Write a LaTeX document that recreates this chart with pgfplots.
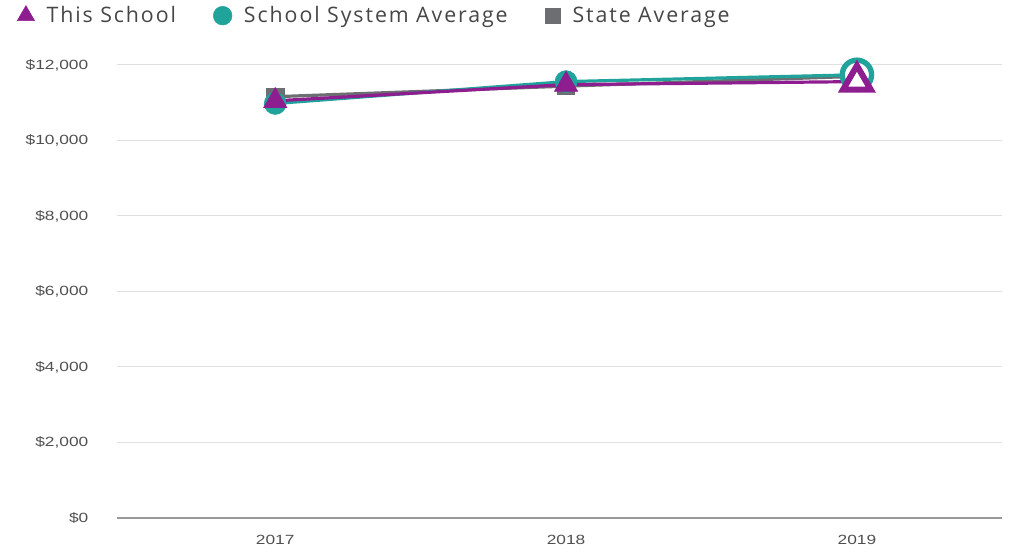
\documentclass[border=0pt]{standalone}
\usepackage{pgfplots}
\pgfplotsset{compat=1.18}
\usepackage{fontspec}
\setmainfont{Liberation Sans}
\newfontfamily\tickfont[FakeStretch=1.3]{Liberation Sans}
\newfontfamily\legfont[LetterSpace=9]{Open Sans}
\definecolor{cPurple}{RGB}{142,30,143}
\definecolor{cTeal}{RGB}{32,163,155}
\definecolor{cGrey}{RGB}{109,110,113}
\definecolor{cTick}{RGB}{80,80,80}
\definecolor{cLeg}{RGB}{70,70,70}
\begin{document}
\begin{tikzpicture}
\useasboundingbox (0,0) rectangle (774pt,414pt);
\begin{axis}[
  at={(87.75pt,25.5pt)}, anchor=south west, scale only axis,
  width=664pt, height=339.75pt,
  xmin=-0.544, xmax=2.5, ymin=0, ymax=12000,
  clip=false, scaled y ticks=false,
  xtick={0,1,2}, xticklabels={2017,2018,2019},
  ytick={0,2000,4000,6000,8000,10000,12000},
  yticklabels={{\$0},{\$2,000},{\$4,000},{\$6,000},{\$8,000},{\$10,000},{\$12,000}},
  ymajorgrids, grid style={draw=black!12, line width=0.75pt},
  axis x line*=bottom, axis y line*=left,
  x axis line style={draw=black!40, line width=0.9pt, -},
  y axis line style={draw=none},
  major tick length=0pt,
  ticklabel style={font=\tickfont\fontsize{10}{12}\selectfont, text=cTick},
  yticklabel style={xshift=-18pt},
  xticklabel style={yshift=-9pt},
  legend columns=3,
  legend style={draw=none, fill=none, at={(axis description cs:0,1)}, anchor=west,
    xshift=-78pt, yshift=37pt, font=\legfont\fontsize{16}{18}\selectfont, text=cLeg,
    /tikz/every odd column/.append style={column sep=7pt},
    /tikz/every even column/.append style={column sep=26pt}},
  legend image code/.code={\draw[#1] plot coordinates {(0.25cm,0cm)};},
]
\addlegendimage{cPurple, only marks, mark=triangle*, mark size=7.5pt}
\addlegendimage{cTeal, only marks, mark=*, mark size=7pt}
\addlegendimage{cGrey, only marks, mark=square*, mark size=5.8pt}
\legend{This School, School System Average, State Average}
\addplot[cGrey, line width=2.4pt, mark=square*, mark size=6.5pt,
  mark options={line width=0.5pt}, forget plot] coordinates {(0,11160) (1,11440) (2,11700)};
\addplot[cTeal, line width=2.4pt, mark=*, mark size=8.2pt,
  mark options={line width=0.5pt}, forget plot] coordinates {(0,10980) (1,11560)};
\addplot[cTeal, line width=2.4pt, forget plot] coordinates {(1,11560) (2,11740)};
\addplot[cTeal, only marks, mark=*, mark size=11pt, mark options={fill=white, line width=4pt}, forget plot] coordinates {(2,11740)};
\addplot[cPurple, line width=2.4pt, mark=triangle*, mark size=10pt,
  mark options={line width=0.5pt}, forget plot] coordinates {(0,11050) (1,11480)};
\addplot[cPurple, line width=2.4pt, forget plot] coordinates {(1,11480) (2,11560)};
\addplot[cPurple, only marks, mark=triangle*, mark size=12pt, mark options={fill=white, line width=4.5pt}, forget plot] coordinates {(2,11560)};
\end{axis}
\end{tikzpicture}
\end{document}
